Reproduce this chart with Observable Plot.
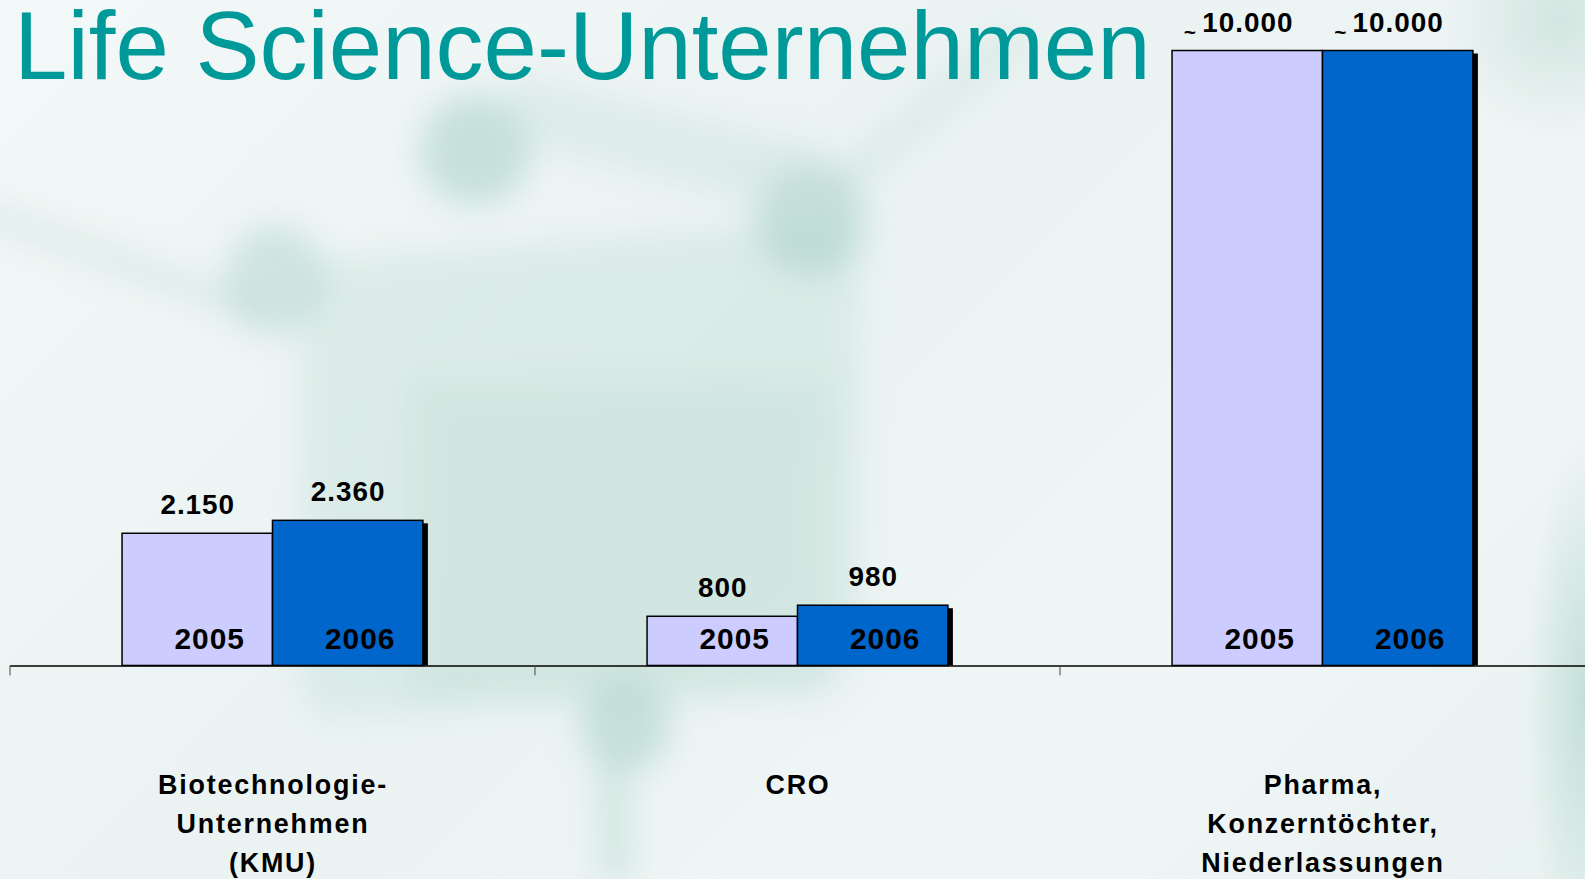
<!DOCTYPE html>
<html>
<head>
<meta charset="utf-8">
<script src="https://cdn.jsdelivr.net/npm/d3@7"></script>
<script src="https://cdn.jsdelivr.net/npm/@observablehq/plot@0.6"></script>
<style>
  html, body { margin: 0; padding: 0; width: 1585px; height: 879px; overflow: hidden; }
  body { position: relative; font-family: "Liberation Sans", Arial, sans-serif;
    background:
      radial-gradient(ellipse 60px 260px at 1585px 700px, rgba(180,215,205,0.7), rgba(180,215,205,0) 100%),
      radial-gradient(ellipse 120px 120px at 1560px 20px, rgba(185,215,205,0.5), rgba(185,215,205,0) 100%),
      linear-gradient(135deg, #f3f8f8 0%, #eaf3f2 45%, #f0f6f6 75%, #e8f2f0 100%);
  }
  #bg { position: absolute; left: 0; top: 0; width: 1585px; height: 879px; filter: blur(16px); }
  #bg div { position: absolute; }
  #title { position: absolute; left: 14px; top: 6px; font-size: 96px; line-height: 80px;
    color: #00999a; font-family: "Liberation Sans", Arial, sans-serif; white-space: nowrap; }
  #chart { position: absolute; left: 0; top: 0; }
  .num text, text.num { letter-spacing: 1px; }
  .cat text, text.cat { letter-spacing: 1.8px; }
</style>
</head>
<body>
<div id="bg">
  <div style="left:300px;top:240px;width:560px;height:460px;background:rgba(195,222,215,0.4);border-radius:40px;transform:skewY(-4deg);"></div>
  <div style="left:410px;top:380px;width:420px;height:320px;background:rgba(180,214,205,0.25);"></div>
  <div style="left:420px;top:95px;width:110px;height:110px;border-radius:50%;background:rgba(165,207,197,0.55);"></div>
  <div style="left:755px;top:165px;width:110px;height:110px;border-radius:50%;background:rgba(165,207,197,0.55);"></div>
  <div style="left:225px;top:225px;width:100px;height:110px;border-radius:50%;background:rgba(175,212,202,0.5);"></div>
  <div style="left:580px;top:680px;width:90px;height:90px;border-radius:50%;background:rgba(165,207,197,0.55);"></div>
  <div style="left:600px;top:760px;width:30px;height:120px;background:rgba(175,212,202,0.45);"></div>
  <div style="left:-20px;top:200px;width:300px;height:22px;background:rgba(190,218,210,0.45);transform:rotate(20deg);transform-origin:left center;"></div>
  <div style="left:820px;top:190px;width:260px;height:22px;background:rgba(190,218,210,0.45);transform:rotate(-40deg);transform-origin:left center;"></div>
  <div style="left:500px;top:110px;width:330px;height:70px;background:rgba(195,222,215,0.35);transform:rotate(14deg);"></div>
</div>
<div id="title">Life Science-Unternehmen</div>
<div id="chart"></div>
<script>
const categories = ["Biotechnologie-\nUnternehmen\n(KMU)", "CRO", "Pharma,\nKonzerntöchter,\nNiederlassungen"];
const years = ["2005", "2006"];
const values2005 = [2150, 800, 10000];
const values2006 = [2360, 980, 10000];
const approx2005 = [false, false, true];
const approx2006 = [false, false, true];
const yearColors = ["#ccccff", "#0066cc"];

const data = [];
categories.forEach((c, i) => {
  data.push({cat: c, year: years[0], value: values2005[i], approx: approx2005[i]});
  data.push({cat: c, year: years[1], value: values2006[i], approx: approx2006[i]});
});

const fmt = d3.formatLocale({decimal: ",", thousands: ".", grouping: [3], currency: ["", "€"]}).format(",");
const font = "Liberation Sans, Arial, sans-serif";

const chart = Plot.plot({
  width: 1591,
  height: 879,
  marginLeft: 10,
  marginRight: 0,
  marginTop: 50.7,
  marginBottom: 211,
  style: {background: "transparent", overflow: "visible", fontFamily: font, color: "black"},
  fx: {domain: categories, padding: 0, axis: null, round: false},
  x: {domain: years, paddingInner: 0, paddingOuter: 0.745, axis: null, round: false},
  y: {domain: [0, 10000], axis: null},
  color: {domain: years, range: yearColors},
  marks: [
    Plot.barY(data, {fx: "cat", x: "year", y: "value", fill: "black", dx: 5, insetTop: 3, inset: 0}),
    Plot.barY(data, {fx: "cat", x: "year", y: "value", fill: "year", stroke: "black", strokeWidth: 1.5, inset: 0}),
    Plot.ruleY([0], {stroke: "black", strokeWidth: 1.5}),
    Plot.text(data, {fx: "cat", x: "year", y: "value", text: d => fmt(d.value), dy: -28.5,
      fontSize: 28, fontWeight: "bold", fill: "black", className: "num"}),
    Plot.text(data.filter(d => d.approx), {fx: "cat", x: "year", y: "value", text: () => "~",
      textAnchor: "end", dx: -52, dy: -19, fontSize: 21, fontWeight: "bold", fill: "black"}),
    Plot.text(data, {fx: "cat", x: "year", y: () => 0, text: "year", dx: 12, dy: -26.6,
      fontSize: 30, fontWeight: "bold", fill: "black", className: "num"}),
    Plot.text(categories, {fx: d => d, text: d => d, frameAnchor: "bottom", lineAnchor: "top",
      dy: 101, lineHeight: 1.45, fontSize: 27, fontWeight: "bold", fill: "black", className: "cat"})
  ]
});

// tick marks at the category boundaries (left edges of the fx bands)
const fxScale = chart.scale("fx");
const yScale = chart.scale("y");
const y0 = yScale.apply(0);
const svg = d3.select(chart);
categories.forEach(c => {
  const xl = fxScale.apply(c);
  svg.append("line")
    .attr("x1", xl).attr("x2", xl)
    .attr("y1", y0).attr("y2", y0 + 10)
    .attr("stroke", "#444").attr("stroke-width", 1);
});

document.getElementById("chart").appendChild(chart);
</script>
</body>
</html>
